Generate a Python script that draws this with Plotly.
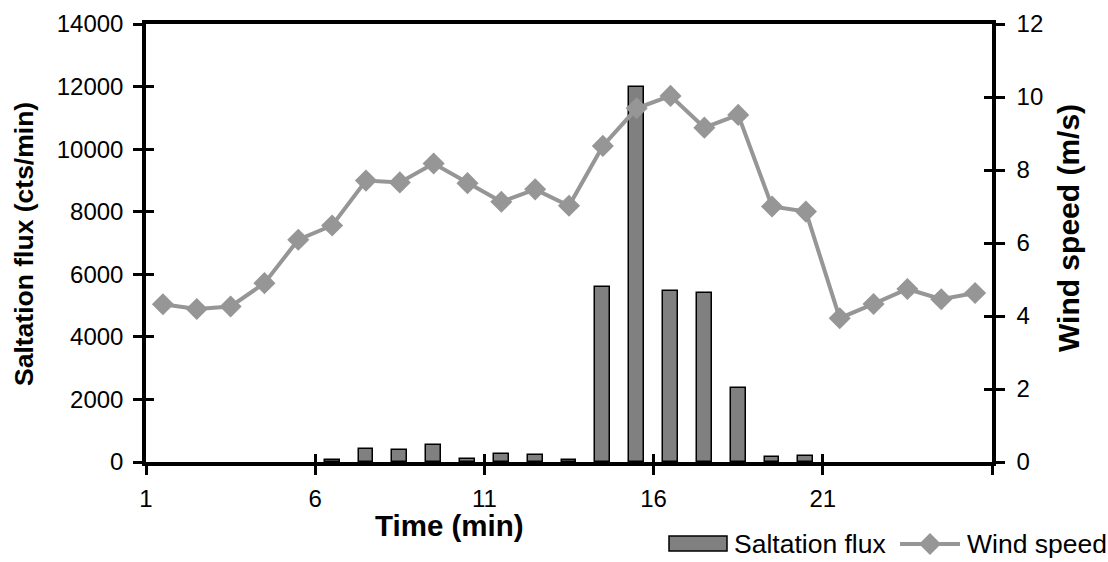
import plotly.graph_objects as go

time_min = list(range(1, 26))
# None = no bar drawn (zero flux)
saltation_flux = [None, None, None, None, None, 60, 420, 370, 530, 110, 240, 230, 70,
                  5600, 12000, 5450, 5400, 2360, 170, 200, None, None, None, None, None]
wind_speed = [4.32, 4.19, 4.26, 4.90, 6.09, 6.48, 7.71, 7.66, 8.18, 7.64,
              7.13, 7.47, 7.02, 8.66, 9.69, 10.03, 9.16, 9.51, 7.00, 6.86,
              3.94, 4.33, 4.74, 4.46, 4.63]
x_tick_labels = ["1", "6", "11", "16", "21", ""]
x_tick_vals = [t - 0.5 for t in [1, 6, 11, 16, 21, 26]]
series_names = ["Saltation flux", "Wind speed"]

FONT = "Liberation Sans, Arial, sans-serif"
GRAY_LINE = "#969696"
BAR_FILL = "#808080"

W, H = 1108, 562
ML, MR, MT, MB = 146, 116, 24, 100
PW, PH = W - ML - MR, H - MT - MB


def px(x):
    return (x - ML) / PW


def py(y):
    return (H - MB - y) / PH


fig = go.Figure()
fig.add_trace(go.Bar(
    x=time_min, y=saltation_flux, name=series_names[0],
    width=0.44, marker=dict(color=BAR_FILL, line=dict(color="black", width=1.5)),
    yaxis="y", showlegend=False,
))
fig.add_trace(go.Scatter(
    x=time_min, y=wind_speed, name=series_names[1], mode="lines+markers",
    line=dict(color=GRAY_LINE, width=4),
    marker=dict(symbol="diamond", size=17, color=GRAY_LINE),
    yaxis="y2", showlegend=False,
))
# empty helper traces so the inside-tick overlay axes are drawn
fig.add_trace(go.Scatter(x=[], y=[], xaxis="x2", yaxis="y3", showlegend=False,
                         hoverinfo="skip"))
fig.add_trace(go.Scatter(x=[], y=[], xaxis="x2", yaxis="y4", showlegend=False,
                         hoverinfo="skip"))

axis_common = dict(showgrid=False, zeroline=False, tickwidth=3, tickcolor="black",
                   tickfont=dict(family=FONT, size=24, color="black"))

# legend (drawn manually to match the wide bar swatch)
lx0, lx1, ly0, ly1 = 669, 727, 536, 551
lcy = 544
dcx, dr = 930, 11
shapes = [
    dict(type="rect", xref="paper", yref="paper", x0=px(lx0), x1=px(lx1),
         y0=py(ly1), y1=py(ly0), fillcolor=BAR_FILL,
         line=dict(color="black", width=1.5)),
    dict(type="line", xref="paper", yref="paper", x0=px(900), x1=px(960),
         y0=py(lcy), y1=py(lcy), line=dict(color=GRAY_LINE, width=4)),
    dict(type="path", xref="paper", yref="paper",
         path=(f"M {px(dcx - dr)},{py(lcy)} L {px(dcx)},{py(lcy - dr)} "
               f"L {px(dcx + dr)},{py(lcy)} L {px(dcx)},{py(lcy + dr)} Z"),
         fillcolor=GRAY_LINE, line=dict(width=0)),
]

annotations = [
    dict(text=series_names[0], xref="paper", yref="paper", x=px(732), y=py(lcy),
         xanchor="left", yanchor="middle", showarrow=False,
         font=dict(family=FONT, size=26.5, color="black")),
    dict(text=series_names[1], xref="paper", yref="paper", x=px(965), y=py(lcy),
         xanchor="left", yanchor="middle", showarrow=False,
         font=dict(family=FONT, size=26.5, color="black")),
    dict(text="<b>Time (min)</b>", xref="paper", yref="paper",
         x=px(449), y=py(525),
         xanchor="center", yanchor="middle", showarrow=False,
         font=dict(family=FONT, size=29.5, color="black")),
    dict(text="<b>Saltation flux (cts/min)</b>", xref="paper", yref="paper",
         x=px(24), y=py(244), textangle=-90,
         xanchor="center", yanchor="middle", showarrow=False,
         font=dict(family=FONT, size=26.5, color="black")),
    dict(text="<b>Wind speed (m/s)</b>", xref="paper", yref="paper",
         x=px(1068), y=py(228), textangle=-90,
         xanchor="center", yanchor="middle", showarrow=False,
         font=dict(family=FONT, size=30, color="black")),
]

fig.update_layout(
    width=W, height=H,
    margin=dict(l=ML, r=MR, t=MT, b=MB, pad=0, autoexpand=False),
    paper_bgcolor="white", plot_bgcolor="white",
    font=dict(family=FONT, color="black"),
    bargap=0,
    showlegend=False,
    xaxis=dict(range=[0.5, 25.5], tickmode="array", tickvals=x_tick_vals,
               ticktext=x_tick_labels, ticks="outside", ticklen=9,
               showline=True, linecolor="black", linewidth=3.5, mirror=True,
               ticklabelstandoff=3, **axis_common),
    xaxis2=dict(range=[0.5, 25.5], overlaying="x", side="bottom", anchor="y",
                tickmode="array", tickvals=x_tick_vals, ticks="inside", ticklen=8,
                showticklabels=False, showline=False, **axis_common),
    yaxis=dict(range=[0, 14000], dtick=2000, tickformat="d", ticks="outside",
               ticklen=9, showline=True, linecolor="black", linewidth=3.5,
               ticklabelstandoff=5, **axis_common),
    yaxis3=dict(range=[0, 14000], dtick=2000, overlaying="y", side="left",
                anchor="x2", ticks="inside", ticklen=8, showticklabels=False,
                showline=False, **axis_common),
    yaxis2=dict(range=[0, 12], dtick=2, overlaying="y", side="right", anchor="x",
                ticks="outside", ticklen=9, showline=True, linecolor="black",
                linewidth=3.5, ticklabelstandoff=7, **axis_common),
    yaxis4=dict(range=[0, 12], dtick=2, overlaying="y", side="right", anchor="x2",
                ticks="inside", ticklen=8, showticklabels=False, showline=False,
                **axis_common),
    shapes=shapes,
    annotations=annotations,
)

fig.write_html("out.html")
